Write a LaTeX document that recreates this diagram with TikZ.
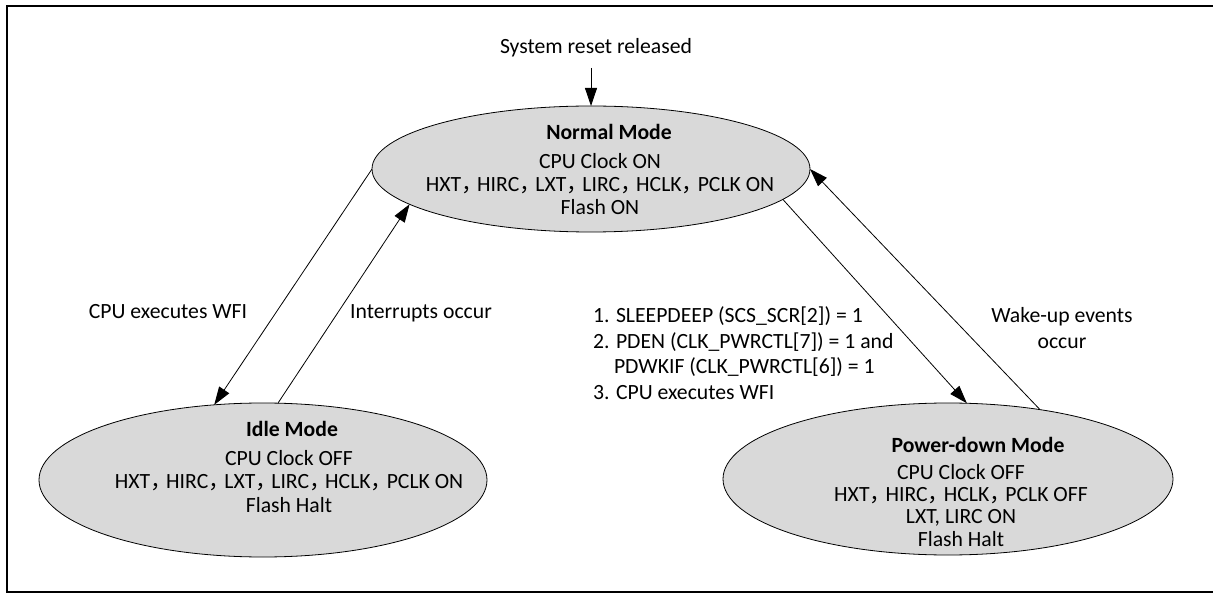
\documentclass[tikz,border=0pt]{standalone}
\usepackage{fontspec}
\setmainfont{Carlito}
\newfontfamily\cjk{Noto Sans CJK SC}
\usetikzlibrary{arrows.meta,shapes.geometric}
\definecolor{stategray}{HTML}{D9D9D9}
\newcommand\cmz{\makebox[0.74em][l]{\smash{\cjk ，}}}
\begin{document}
\begin{tikzpicture}[x=1pt,y=-1pt,
  every node/.style={inner sep=0pt,outer sep=0pt},
  state/.style={ellipse,draw=black,line width=0.8pt,fill=stategray},
  txt/.style={font=\fontsize{21.7}{23}\selectfont},
  ttl/.style={font=\fontsize{21.7}{23}\selectfont\bfseries,anchor=base},
  body/.style={font=\fontsize{21.7}{#1}\selectfont,align=center,anchor=base},
  conn/.style={line width=0.8pt,-{Triangle[length=18pt,width=12pt]}},
  frameline/.style={line width=2pt,line cap=rect}]
\useasboundingbox (0,0) rectangle (1213,593);
% frame
\coordinate (fbl) at (7,592);
\coordinate (ftl) at (7,6);
\coordinate (ftr) at (1213,6);
\coordinate (fbr) at (1213,592);
\draw[frameline] (ftr) -- (ftl) -- (fbl) -- (fbr);
% states
\node[state,minimum width=438pt,minimum height=126pt] (normal) at (591,169) {};
\node[state,minimum width=448pt,minimum height=154pt] (idle) at (263,480) {};
\node[state,minimum width=450pt,minimum height=152pt] (power) at (948,479) {};
% state texts (base = baseline of last line)
\node[ttl] (normalT) at (609,140) {Normal Mode};
\node[body=23] (normalB) at (600,215) {CPU Clock ON\\HXT\cmz HIRC\cmz LXT\cmz LIRC\cmz HCLK\cmz PCLK ON\\Flash ON};
\node[ttl] (idleT) at (292,437) {Idle Mode};
\node[body=23.5] (idleB) at (289,512) {CPU Clock OFF\\HXT\cmz HIRC\cmz LXT\cmz LIRC\cmz HCLK\cmz PCLK ON\\Flash Halt};
\node[ttl] (powerT) at (978,453) {Power-down Mode};
\node[body=22.3] (powerB) at (961,546) {CPU Clock OFF\\HXT\cmz HIRC\cmz HCLK\cmz PCLK OFF\\LXT, LIRC ON\\Flash Halt};
% reset
\node[txt,anchor=base] (reset) at (596,54) {System reset released};
\coordinate (rs) at (591,68);
\draw[conn] (rs) -- (normal.north);
% transitions
\draw[conn] (normal.180) -- (idle.123.5);
\draw[conn] (idle.79) -- (normal.191.25);
\draw[conn] (normal.351) -- (power.76.1);
\draw[conn] (power.37.5) -- (normal.0);
% labels
\node[txt,anchor=base] (wfi) at (168,319) {CPU executes WFI};
\node[txt,anchor=base] (intr) at (421,319) {Interrupts occur};
\node[txt,anchor=base west] (l1) at (593,323) {1. SLEEPDEEP (SCS\_SCR[2]) = 1};
\node[txt,anchor=base west] (l2) at (593,348.5) {2. PDEN (CLK\_PWRCTL[7]) = 1 and};
\node[txt,anchor=base west] (l3) at (614,374) {PDWKIF (CLK\_PWRCTL[6]) = 1};
\node[txt,anchor=base west] (l4) at (593,399.5) {3. CPU executes WFI};
\node[txt,anchor=base] (wk1) at (1062,323) {Wake-up events};
\node[txt,anchor=base] (wk2) at (1062,349) {occur};
\end{tikzpicture}
\end{document}
